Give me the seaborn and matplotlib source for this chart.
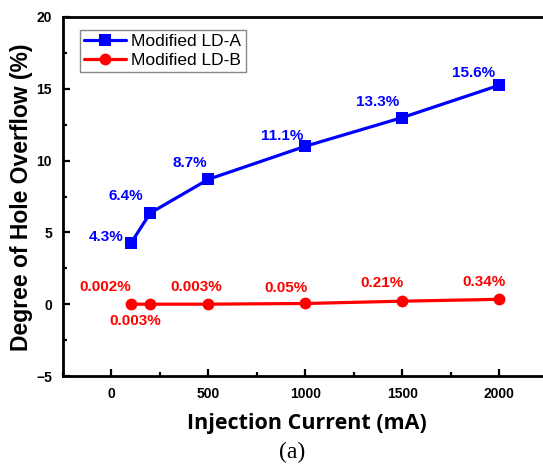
import matplotlib
matplotlib.use("Agg")
import matplotlib.pyplot as plt
import seaborn as sns
import pandas as pd
from matplotlib.ticker import MultipleLocator

current = [100, 200, 500, 1000, 1500, 2000]
overflow_a = [4.25, 6.35, 8.7, 11.0, 13.0, 15.25]
overflow_b = [0.002, 0.003, 0.003, 0.05, 0.21, 0.34]
labels_a = ["4.3%", "6.4%", "8.7%", "11.1%", "13.3%", "15.6%"]
labels_b = ["0.002%", "0.003%", "0.003%", "0.05%", "0.21%", "0.34%"]
series_names = ["Modified LD-A", "Modified LD-B"]

df = pd.DataFrame({
    "current": current * 2,
    "overflow": overflow_a + overflow_b,
    "series": [series_names[0]] * len(current) + [series_names[1]] * len(current),
})

sns.set_theme(style="white")
plt.rcParams["font.family"] = ["Liberation Sans", "DejaVu Sans"]
plt.rcParams["text.color"] = "black"

fig = plt.figure(figsize=(5.43, 4.66), dpi=100)
ax = fig.add_axes([63 / 543, 90 / 466, 479 / 543, 359 / 466])

sns.lineplot(data=df, x="current", y="overflow", hue="series", style="series",
             palette={series_names[0]: "#0000ff", series_names[1]: "#ff0000"},
             markers={series_names[0]: "s", series_names[1]: "o"}, dashes=False,
             markersize=8.5, markeredgewidth=0, linewidth=2.3, ax=ax)

ax.set_xlim(-250, 2220)
ax.set_ylim(-5, 20)
ax.xaxis.set_major_locator(MultipleLocator(500))
ax.xaxis.set_minor_locator(MultipleLocator(250))
ax.yaxis.set_major_locator(MultipleLocator(5))
ax.yaxis.set_minor_locator(MultipleLocator(2.5))
ax.tick_params(which="both", direction="in", width=1.6, colors="black",
               bottom=True, left=True, top=False, right=False)
ax.tick_params(which="major", length=5, labelsize=10, pad=8)
ax.tick_params(which="minor", length=3)
for lab in ax.get_xticklabels() + ax.get_yticklabels():
    lab.set_fontweight("bold")
for side in ["left", "bottom", "top"]:
    ax.spines[side].set_linewidth(2)
    ax.spines[side].set_color("black")
ax.spines["right"].set_visible(False)

ax.set_xlabel("")
ax.set_ylabel("")
fig.text(307 / 543, 1 - 423 / 466, "Injection Current (mA)", ha="center", va="center",
         fontsize=15.5, fontweight="bold", color="black", family=["Open Sans", "DejaVu Sans"])
fig.text(22 / 543, 1 - 197 / 466, "Degree of Hole Overflow (%)", ha="center", va="center",
         rotation=90, fontsize=16.5, fontweight="bold", color="black")
fig.text(292 / 543, 1 - 452 / 466, "(a)", ha="center", va="center", color="black",
         fontsize=17, family=["Liberation Serif", "DejaVu Serif"])

offs_a = [(-25, 6), (-24, 17), (-19, 16), (-23, 10), (-25, 16), (-26, 12)]
offs_b = [(-26, 17), (-15, -17), (-12, 17), (-19, 15), (-20, 18), (-15, 17)]
for x, y, t, o in zip(current, overflow_a, labels_a, offs_a):
    ax.annotate(t, (x, y), xytext=o, textcoords="offset pixels", ha="center", va="center",
                color="#0000ff", fontsize=11, fontweight="bold")
for x, y, t, o in zip(current, overflow_b, labels_b, offs_b):
    ax.annotate(t, (x, y), xytext=o, textcoords="offset pixels", ha="center", va="center",
                color="#ff0000", fontsize=11, fontweight="bold")

leg = ax.legend(loc="upper left", bbox_to_anchor=(17 / 479, 1 - 13 / 359), fontsize=12.5,
                frameon=True, fancybox=False, edgecolor="#888888", framealpha=1,
                handlelength=2.4, borderpad=0.25, labelspacing=0.2, handletextpad=0.3,
                borderaxespad=0)
leg.get_frame().set_linewidth(1)
for t in leg.get_texts():
    t.set_color("black")

fig.savefig("out.png", dpi=100)
